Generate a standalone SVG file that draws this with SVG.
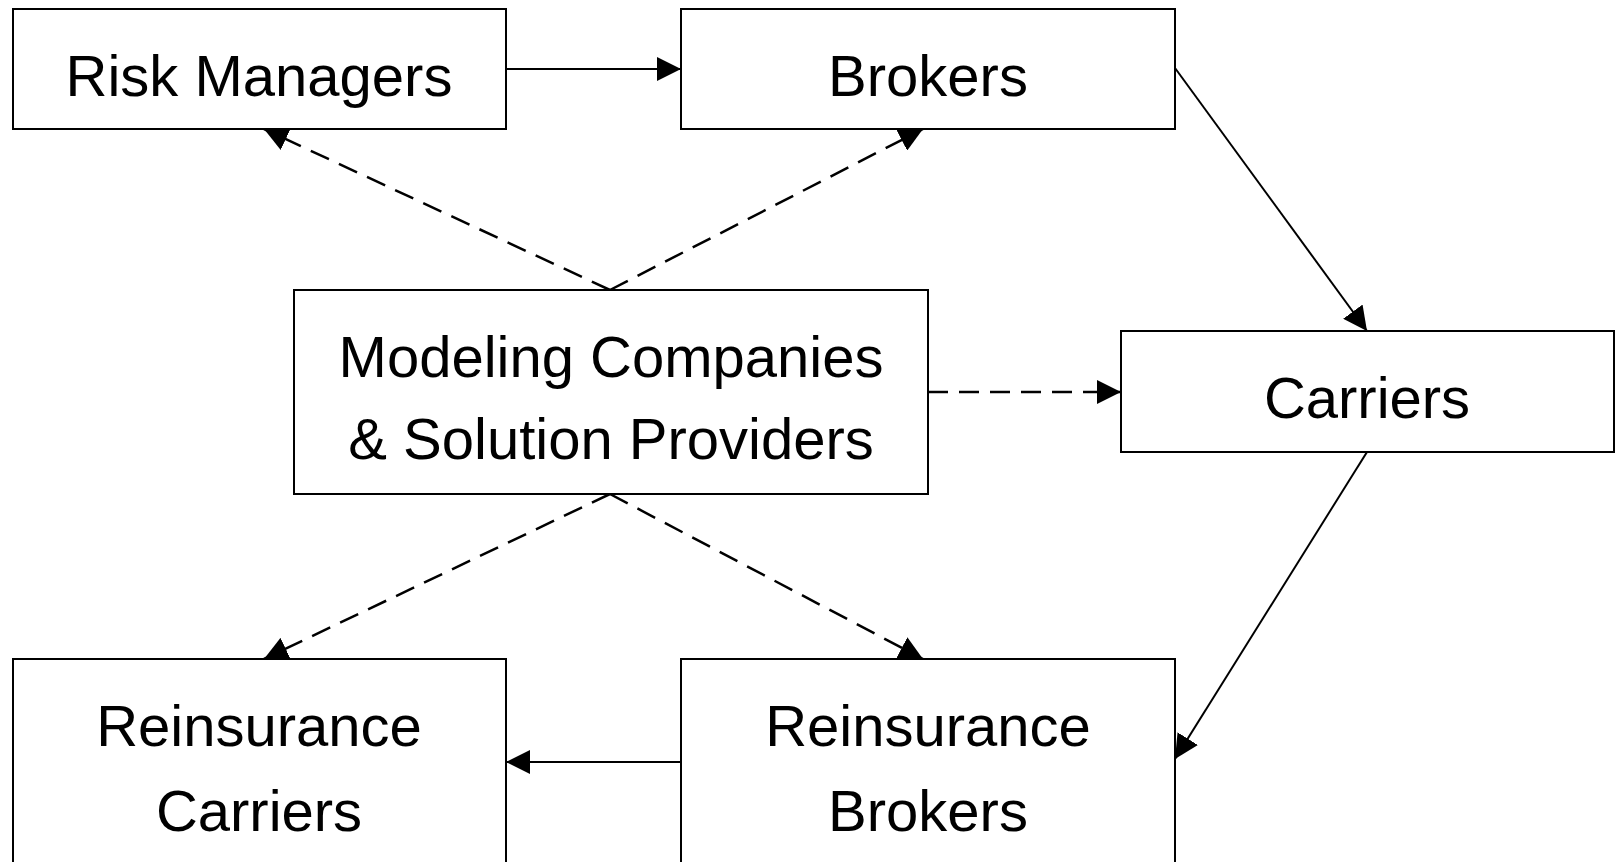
<svg xmlns="http://www.w3.org/2000/svg" width="1618" height="862" viewBox="0 0 1618 862">
  <style>
    .box { fill: #ffffff; stroke: #000000; stroke-width: 2; }
    .label { font-family: "Liberation Sans", Arial, sans-serif; font-size: 58px; fill: #000000; text-anchor: middle; }
    .flow { fill: none; stroke: #000000; stroke-width: 2; marker-end: url(#arrow); }
    .dashed { stroke-width: 2.5; stroke-dasharray: 20 11; }
  </style>
  <defs>
    <marker id="arrow" markerUnits="userSpaceOnUse" markerWidth="24" markerHeight="24" refX="24" refY="12" orient="auto">
      <path d="M0,0 L24,12 L0,24 Z" fill="#000000"/>
    </marker>
  </defs>
  <rect width="1618" height="862" fill="#ffffff"/>

  <g id="connectors">
    <line class="flow" x1="506" y1="69" x2="681" y2="69"/>
    <line class="flow" x1="1175" y1="68" x2="1367" y2="331"/>
    <line class="flow" x1="1367" y1="452" x2="1175" y2="759"/>
    <line class="flow" x1="681" y1="762" x2="506" y2="762"/>
    <line class="flow dashed" x1="610" y1="290" x2="264" y2="129"/>
    <line class="flow dashed" x1="610" y1="290" x2="923" y2="129"/>
    <line class="flow dashed" x1="928" y1="392" x2="1121" y2="392"/>
    <line class="flow dashed" x1="610" y1="494" x2="264" y2="659"/>
    <line class="flow dashed" x1="610" y1="494" x2="923" y2="659"/>
  </g>

  <g id="risk-managers">
    <rect class="box" x="13" y="9" width="493" height="120"/>
    <text class="label" x="259" y="96">Risk Managers</text>
  </g>
  <g id="brokers">
    <rect class="box" x="681" y="9" width="494" height="120"/>
    <text class="label" x="928" y="96">Brokers</text>
  </g>
  <g id="modeling-companies">
    <rect class="box" x="294" y="290" width="634" height="204"/>
    <text class="label" x="611" y="377">Modeling Companies</text>
    <text class="label" x="611" y="459">&amp; Solution Providers</text>
  </g>
  <g id="carriers">
    <rect class="box" x="1121" y="331" width="493" height="121"/>
    <text class="label" x="1367" y="418">Carriers</text>
  </g>
  <g id="reinsurance-carriers">
    <rect class="box" x="13" y="659" width="493" height="230"/>
    <text class="label" x="259" y="746">Reinsurance</text>
    <text class="label" x="259" y="831">Carriers</text>
  </g>
  <g id="reinsurance-brokers">
    <rect class="box" x="681" y="659" width="494" height="230"/>
    <text class="label" x="928" y="746">Reinsurance</text>
    <text class="label" x="928" y="831">Brokers</text>
  </g>
</svg>
